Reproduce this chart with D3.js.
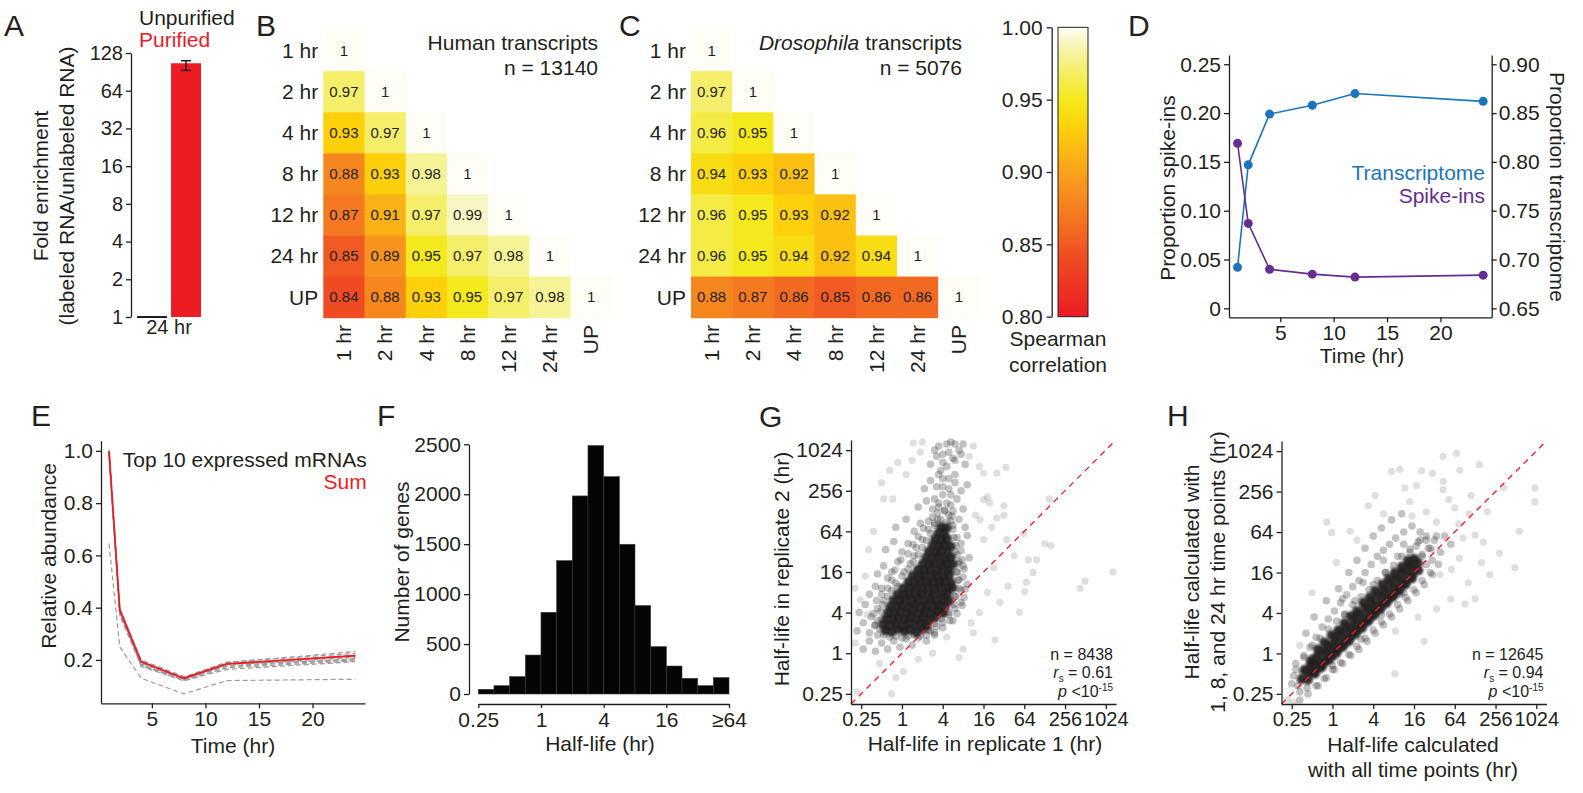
<!DOCTYPE html>
<html>
<head>
<meta charset="utf-8">
<script src="https://cdn.jsdelivr.net/npm/d3@7"></script>
<style>body{margin:0;background:#fff}</style>
</head>
<body>
<script>
// ---------------- data ----------------

// A: fold enrichment
var enrichGroups = ["Unpurified", "Purified"];
var enrichTime = "24 hr";
var enrichMean = [1, 106];
var enrichLo = [1, 93];
var enrichHi = [1, 111];
var enrichTicks = [1, 2, 4, 8, 16, 32, 64, 128];

// B, C: spearman correlations (lower triangle)
var timeLabels = ["1 hr", "2 hr", "4 hr", "8 hr", "12 hr", "24 hr", "UP"];
var humanCorr = [
  [1],
  [0.97, 1],
  [0.93, 0.97, 1],
  [0.88, 0.93, 0.98, 1],
  [0.87, 0.91, 0.97, 0.99, 1],
  [0.85, 0.89, 0.95, 0.97, 0.98, 1],
  [0.84, 0.88, 0.93, 0.95, 0.97, 0.98, 1]
];
var flyCorr = [
  [1],
  [0.97, 1],
  [0.96, 0.95, 1],
  [0.94, 0.93, 0.92, 1],
  [0.96, 0.95, 0.93, 0.92, 1],
  [0.96, 0.95, 0.94, 0.92, 0.94, 1],
  [0.88, 0.87, 0.86, 0.85, 0.86, 0.86, 1]
];
var corrTicks = [0.80, 0.85, 0.90, 0.95, 1.00];

// D: proportions
var sampleTimes = [1, 2, 4, 8, 12, 24];
var transcriptomeProp = [0.692, 0.797, 0.849, 0.858, 0.870, 0.862];
var spikeinProp = [0.169, 0.087, 0.040, 0.035, 0.032, 0.034];

// E: top 10 expressed mRNAs
var topGenes = [
  [1.00, 0.400, 0.200, 0.136, 0.190, 0.232],
  [1.00, 0.395, 0.197, 0.133, 0.192, 0.225],
  [1.00, 0.390, 0.190, 0.130, 0.185, 0.218],
  [0.99, 0.385, 0.186, 0.127, 0.182, 0.210],
  [1.00, 0.380, 0.183, 0.125, 0.178, 0.205],
  [0.98, 0.400, 0.195, 0.128, 0.175, 0.200],
  [1.00, 0.375, 0.180, 0.122, 0.170, 0.196],
  [0.99, 0.388, 0.175, 0.120, 0.164, 0.193],
  [1.00, 0.370, 0.178, 0.124, 0.185, 0.200],
  [0.645, 0.250, 0.130, 0.070, 0.121, 0.126]
];
var topSum = [1.00, 0.390, 0.193, 0.130, 0.185, 0.216];

// F: half-life histogram, bins of half a doubling from 0.25 hr
var hlBinCounts = [47, 83, 174, 390, 818, 1335, 1983, 2487, 2176, 1499, 885, 474, 280, 157, 83, 164];
var hlTickLabels = ["0.25", "1", "4", "16", "\u226564"];

// G, H: half-lives, log2(hr) pairs
var scatterTickLabels = ["0.25", "1", "4", "16", "64", "256", "1024"];

var repCore = [
  [-0.82,1.12],[-0.51,1.05],[-0.18,1.18],[0.12,1.08],[0.43,1.15],[0.71,1.02],[1.02,1.2],
  [-0.93,1.42],[-0.62,1.38],[-0.28,1.45],[0.03,1.36],[0.31,1.47],[0.62,1.4],[0.94,1.44],[1.22,1.35],
  [-0.78,1.72],[-0.47,1.66],[-0.17,1.75],[0.14,1.68],[0.42,1.77],[0.73,1.7],[1.04,1.74],[1.33,1.66],[1.62,1.76],
  [-0.68,2.02],[-0.38,1.96],[-0.07,2.05],[0.22,1.98],[0.53,2.07],[0.81,1.99],[1.12,2.04],[1.41,1.97],[1.72,2.06],[2.01,1.98],
  [-0.57,2.31],[-0.27,2.27],[0.04,2.34],[0.33,2.26],[0.62,2.35],[0.93,2.28],[1.21,2.33],[1.52,2.27],[1.83,2.36],[2.12,2.29],
  [-0.41,2.61],[-0.12,2.56],[0.18,2.64],[0.47,2.57],[0.79,2.65],[1.08,2.58],[1.39,2.63],[1.68,2.56],[2.02,2.64],[2.31,2.58],
  [-0.22,2.91],[0.08,2.86],[0.37,2.94],[0.68,2.87],[0.98,2.95],[1.29,2.88],[1.61,2.93],[1.92,2.86],[2.23,2.94],
  [0.06,3.21],[0.38,3.17],[0.69,3.24],[0.98,3.16],[1.31,3.23],[1.62,3.18],[1.91,3.25],[2.21,3.17],[2.48,3.22],
  [0.32,3.52],[0.61,3.47],[0.92,3.54],[1.21,3.46],[1.52,3.53],[1.82,3.48],[2.12,3.55],[2.41,3.47],
  [0.52,3.82],[0.83,3.77],[1.12,3.84],[1.43,3.76],[1.73,3.83],[2.02,3.78],[2.33,3.85],
  [0.78,4.12],[1.09,4.07],[1.41,4.14],[1.7,4.06],[2.01,4.13],[2.32,4.08],
  [1.02,4.42],[1.31,4.37],[1.62,4.44],[1.91,4.36],[2.22,4.43],[2.49,4.38],
  [1.18,4.72],[1.49,4.67],[1.79,4.74],[2.09,4.66],[2.41,4.73],
  [1.32,5.02],[1.62,4.97],[1.92,5.04],[2.23,4.96],
  [1.51,5.32],[1.81,5.27],[2.11,5.34],[2.39,5.26],
  [1.62,5.62],[1.92,5.57],[2.21,5.64],
  [1.79,5.92],[2.08,5.87],[1.92,6.22],[2.19,6.17]
];
var repMid = [
  [-1.9,0.2],[-1.6,0.6],[-1.3,0.1],[-1.0,0.5],[-0.7,0.2],[-0.4,0.6],[-0.1,0.3],[0.2,0.7],[0.5,0.4],[0.8,0.75],[1.2,0.6],
  [-2.2,1.1],[-1.9,1.5],[-1.6,1.0],[-1.3,1.4],[-1.2,0.9],[1.4,1.1],[1.7,1.3],[2.0,1.5],[1.6,0.9],
  [-2.1,2.0],[-1.8,2.4],[-1.5,1.8],[-1.2,2.2],[-1.0,1.7],[-0.9,2.6],[2.3,1.9],[2.6,2.2],[2.9,2.5],[2.5,1.6],
  [-1.6,2.9],[-1.3,3.3],[-1.0,2.9],[-0.7,3.2],[-0.5,3.6],[-0.2,3.3],[2.6,2.8],[2.9,3.1],[3.2,3.4],[2.8,3.6],
  [-1.2,3.9],[-0.9,4.3],[-0.5,4.0],[-0.2,4.5],[0.1,4.0],[0.4,4.4],[0.6,4.8],[2.7,4.0],[3.0,4.3],[3.3,4.7],[2.8,4.5],
  [-0.8,5.1],[-0.4,5.5],[0.0,5.0],[0.3,5.4],[0.7,5.2],[1.0,5.6],[2.6,5.0],[2.9,5.4],[3.2,5.8],[2.7,5.7],
  [-0.3,6.2],[0.2,6.6],[0.6,6.0],[0.9,6.4],[1.3,6.1],[1.5,6.7],[2.5,6.3],[2.8,6.6],[3.1,6.2],[2.3,6.8],
  [1.6,6.4],[1.9,6.6],[2.2,6.45],[2.45,6.75],[1.75,6.9],[2.1,7.05],
  [0.8,7.2],[1.2,7.5],[1.5,7.1],[1.8,7.4],[2.1,7.0],[2.4,7.3],[2.7,7.6],[3.0,7.1],[2.0,7.8],
  [1.1,8.1],[1.4,8.5],[1.7,8.2],[2.0,8.6],[2.3,8.1],[2.6,8.4],[2.9,8.0],[3.2,8.3],[1.9,9.0],
  [1.4,9.3],[1.7,9.7],[2.0,9.4],[2.3,9.9],[2.6,9.5],[2.9,9.8],[3.1,9.3],[2.2,10.3],[2.6,10.3],[1.8,10.2],[3.0,10.3],
  [-1.1,1.2],[-1.2,1.6],[-1.05,2.05],[-0.95,2.4],[-0.7,2.8],[-0.5,3.1],[-0.3,3.45],[0.0,3.8],[0.3,4.15],[0.55,4.5],
  [0.8,4.85],[1.0,5.2],[1.2,5.55],[1.4,5.9],[1.6,6.3],[1.75,6.6],
  [-1.35,1.35],[-1.4,1.95],[-1.25,2.6],[-1.0,3.2],[-0.7,3.7],[-0.35,4.1],[-0.05,4.6],[0.3,4.9],[0.55,5.35],[0.8,5.75],
  [1.05,6.15],[1.3,6.5],
  [1.3,1.15],[1.6,1.45],[1.95,1.7],[2.3,2.0],[2.55,2.4],[2.65,2.8],[2.8,3.2],[2.75,3.6],[2.7,4.0],[2.75,4.4],
  [2.7,4.85],[2.65,5.3],[2.55,5.7],[2.5,6.1],[2.4,6.5],
  [1.6,1.0],[2.0,1.25],[2.35,1.6],[2.7,1.95],[2.95,2.35],[3.05,2.75],[3.1,3.15],[3.0,3.75],[3.05,4.15],[2.95,4.6],[2.9,5.05],
  [-0.6,0.8],[-0.3,0.85],[0.0,0.75],[0.3,0.85],[0.6,0.9],[0.9,0.85],[-0.9,0.9],[1.2,0.9],
  [1.8,7.2],[2.2,7.4],[2.5,7.0],[1.6,7.6],[2.4,7.8],[2.0,8.2],[2.3,8.6],[1.8,8.8],[2.6,8.8],[2.2,9.2],
  [2.5,9.6],[2.0,9.8],[2.8,10.0],[2.4,10.4],[1.6,10.0]
];
var repSparse = [
  [-2.2,-1.9],[-0.5,-2.0],[0.07,-0.9],[-1.64,5.1],[-1.4,6.0],[-2.05,2.63],[-0.9,7.6],[-0.45,7.6],[-0.2,9.4],[0.5,9.5],
  [0.56,10.35],[4.0,8.87],[4.65,8.87],[5.1,9.15],[7.23,7.6],[5.96,5.9],[7.0,5.4],[7.3,5.3],[6.2,4.6],[6.6,4.6],
  [6.43,3.98],[6.02,3.04],[5.77,2.02],[6.1,3.5],[8.74,3.2],[8.98,3.55],[10.35,4.0],[4.57,0.66],
  [3.5,1.0],[3.8,2.0],[4.2,3.0],[4.5,4.2],[4.0,5.6],[3.6,6.8],[4.3,7.4],[3.8,9.2],[-1.0,8.4],[0.2,8.8],
  [-1.8,3.8],[-2.3,0.5],[-1.1,-0.5],[0.8,-0.3],[1.5,0.0],[2.2,0.8],[3.0,0.2],[4.8,2.5],[5.2,3.3],[5.5,4.8],
  [3.4,1.5],[-0.6,9.0],[0.9,9.9],[3.5,10.2],[4.4,6.2],[5.0,6.8],[2.8,-0.2],[4.0,7.56],[4.2,7.7],[5.0,7.26],
  [3.83,6.57],[4.65,6.65],[5.14,5.59],[1.0,10.4],[3.3,9.7],[-1.7,1.9],[-2.3,3.2],[-0.3,-1.2]
];

var subCore = [
  [-1.52,-1.28],[-1.21,-0.92],[-0.93,-0.61],[-0.62,-0.33],[-0.31,0.02],[0.01,0.28],[0.29,0.61],[0.6,0.88],[0.91,1.22],[1.19,1.5],
  [1.51,1.79],[1.79,2.12],[2.11,2.4],[2.4,2.71],[2.69,3.02],[3.01,3.28],[3.3,3.61],[3.61,3.9],[3.89,4.2],[4.2,4.48],
  [-1.38,-0.81],[-1.08,-0.52],[-0.79,-0.18],[-0.47,0.11],[-0.18,0.43],[0.14,0.72],[0.43,1.06],[0.74,1.33],[1.04,1.67],[1.33,1.95],
  [1.64,2.27],[1.93,2.56],[2.24,2.88],[2.53,3.16],[2.84,3.47],[3.14,3.76],[3.43,4.08],[3.74,4.36],[4.02,4.68],
  [-1.2,-1.31],[-0.9,-0.98],[-0.6,-0.72],[-0.29,-0.39],[0.02,-0.12],[0.31,0.22],[0.62,0.49],[0.93,0.83],[1.22,1.1],[1.53,1.44],
  [1.82,1.71],[2.13,2.05],[2.42,2.31],[2.73,2.64],[3.02,2.9],[3.33,3.24],[3.62,3.51],[3.93,3.84],[4.22,4.1],
  [-1.05,-0.35],[-0.72,0.2],[-0.4,0.55],[-0.05,0.9],[0.28,1.15],[0.58,1.5],[0.9,1.85],[1.2,2.1],[1.5,2.5],[1.82,2.78],
  [2.1,3.1],[2.45,3.42],[2.75,3.7],[3.05,4.0],[3.4,4.3],[3.7,4.6],
  [-0.85,-1.0],[-0.5,-0.65],[-0.15,-0.3],[0.2,0.02],[0.5,0.32],[0.82,0.62],[1.12,0.95],[1.45,1.25],[1.75,1.58],[2.05,1.88],
  [2.35,2.18],[2.65,2.48],[2.95,2.78],[3.28,3.1],[3.58,3.4],[3.9,3.7]
];
var subMid = [
  [-2.0,-1.5],[-1.8,-0.8],[-1.6,-1.9],[-1.4,-0.2],[-1.1,0.3],[-0.8,0.8],[-0.5,1.3],[-0.2,1.7],[0.1,2.1],[0.4,2.5],
  [0.7,2.9],[1.0,3.3],[1.3,3.6],[1.6,4.0],[1.9,4.4],[2.2,4.8],[2.5,5.1],[2.8,5.4],[3.1,5.7],[3.5,6.0],[3.9,6.3],[4.3,6.0],[4.6,5.6],
  [-1.3,1.0],[-0.9,1.8],[-0.3,2.6],[0.3,3.2],[0.8,4.0],[1.2,4.6],[1.6,5.2],[2.0,5.8],[2.4,6.2],[2.9,6.6],[3.4,6.9],
  [-0.7,-1.6],[-0.3,-1.2],[0.1,-0.8],[0.5,-0.5],[0.9,-0.1],[1.3,0.2],[1.7,0.6],[2.1,1.0],[2.5,1.4],[2.9,1.8],
  [3.3,2.2],[3.7,2.6],[4.1,3.0],[4.5,3.4],[4.9,3.9],[5.2,4.4],
  [4.4,4.9],[4.7,5.2],[5.0,5.6],[5.3,5.0],[4.6,4.4],[5.5,5.8],[5.8,5.4],[4.1,5.3],[3.8,5.0],[4.3,5.6],
  [-1.9,-1.1],[-1.7,-1.6],[-1.5,-1.0],[-1.25,-1.7],[-1.0,-0.2],[0.6,1.9],[1.1,2.6],[2.0,3.4],[2.6,4.0],[3.2,4.8],
  [1.4,0.7],[2.4,1.9],[3.5,3.0],[0.0,-0.6],
  [-1.8,-0.5],[-1.4,-0.1],[-1.0,0.4],[-0.6,0.75],[-0.2,1.2],[0.2,1.6],[0.6,1.95],[1.0,2.4],[1.4,2.8],[1.8,3.15],
  [2.2,3.6],[2.6,4.0],[3.0,4.35],[3.4,4.8],[3.8,5.15],[4.2,5.5],[4.6,5.8],
  [-1.6,-2.3],[-1.2,-2.0],[-0.8,-1.6],[-0.4,-1.25],[0.0,-0.8],[0.4,-0.45],[0.8,-0.05],[1.2,0.35],[1.6,0.75],[2.0,1.15],
  [2.4,1.55],[2.8,1.95],[3.2,2.4],[3.6,2.75],[4.0,3.15],[4.4,3.6],[4.8,4.0],
  [0.5,2.7],[1.5,3.5],[2.5,4.6],[3.5,5.4],[4.0,4.4],[4.4,4.8],[4.8,5.2],[5.1,5.8],[4.9,4.6],[3.3,2.9]
];
var subSparse = [
  [9.93,8.18],[9.93,7.49],[9.16,6.04],[8.95,4.24],[8.2,4.95],[7.72,3.9],[7.31,4.49],[6.09,9.9],[5.43,9.74],[7.2,9.33],
  [6.25,9.05],[2.9,9.0],[3.3,9.1],[4.37,9.03],[1.76,7.3],[-0.28,6.49],[-0.04,5.97],[0.86,6.04],[3.06,-1.0],[6.5,2.43],
  [5.8,2.69],[7.0,2.7],[6.66,3.5],[5.43,8.1],[3.55,8.18],[4.12,8.3],[5.43,8.5],[5.27,3.9],[5.84,4.15],[4.9,5.1],
  [6.4,5.7],[7.0,5.85],[6.23,4.7],[7.4,5.5],[2.1,7.8],[3.8,7.5],[4.6,7.0],[5.1,6.5],[6.0,7.2],[6.8,7.8],
  [2.5,6.9],[1.2,5.6],[-1.0,3.0],[-1.6,0.4],[0.2,4.5],[3.1,1.1],[4.2,1.8],[5.1,2.2],[4.5,0.6],[-2.2,-2.3],
  [-1.9,-2.4],[6.2,6.4],[5.7,7.6],[7.6,7.0],[8.4,8.2],[4.9,8.9],[3.9,6.8],[6.7,6.9]
];

// ---------------- drawing ----------------

var FONT = "'Liberation Sans', Arial, Helvetica, sans-serif";
var INK = "#231f20";
var RED = "#ed1c24";

var svg = d3.select("body").append("svg")
  .attr("width", 1583)
  .attr("height", 793)
  .attr("font-family", FONT)
  .style("background", "#fff");

var defs = svg.append("defs");
defs.append("filter").attr("id", "soft")
  .attr("x", "-10%").attr("y", "-10%").attr("width", "120%").attr("height", "120%")
  .append("feGaussianBlur").attr("stdDeviation", 1.0);

function styleAxis(g, fs) {
  g.attr("font-family", FONT).attr("font-size", fs);
  g.selectAll("path, line").attr("stroke", INK).attr("stroke-width", 1.3);
  g.selectAll("text").attr("fill", INK);
}

function text(x, y, s, size, anchor, color) {
  return svg.append("text")
    .attr("x", x).attr("y", y)
    .attr("font-size", size)
    .attr("text-anchor", anchor || "start")
    .attr("fill", color || INK)
    .text(s);
}

function vtext(cx, cy, s, size, angle) {
  return svg.append("text")
    .attr("transform", "translate(" + cx + "," + cy + ") rotate(" + (angle || -90) + ")")
    .attr("text-anchor", "middle")
    .attr("dy", "0.35em")
    .attr("font-size", size)
    .attr("fill", INK)
    .text(s);
}

// panel letters
[["A", 4, 36], ["B", 256, 36], ["C", 619, 36], ["D", 1128, 36],
 ["E", 31, 426], ["F", 377, 426], ["G", 759, 427], ["H", 1167, 426]].forEach(function (p) {
  text(p[1], p[2], p[0], 30);
});

// ---- A ----
var yA = d3.scaleLog().base(2).domain([1, 128]).range([317, 53]);
var xA = d3.scaleBand().domain(enrichGroups).range([137, 201]).paddingInner(0.12);
var enrichColor = [INK, RED];

svg.append("g")
  .attr("transform", "translate(131,0)")
  .call(d3.axisLeft(yA).tickValues(enrichTicks).tickFormat(d3.format("d")).tickSize(5).tickSizeOuter(0).tickPadding(3))
  .call(styleAxis, 20);

enrichGroups.forEach(function (g, i) {
  var h = yA(1) - yA(enrichMean[i]);
  svg.append("rect")
    .attr("x", xA(g))
    .attr("y", yA(enrichMean[i]) - (h < 2 ? 1 : 0))
    .attr("width", xA.bandwidth())
    .attr("height", Math.max(h, 2))
    .attr("fill", enrichColor[i]);
  if (enrichHi[i] > enrichMean[i]) {
    var cx = xA(g) + xA.bandwidth() / 2;
    svg.append("line").attr("x1", cx).attr("x2", cx)
      .attr("y1", yA(enrichHi[i])).attr("y2", yA(enrichLo[i]))
      .attr("stroke", INK).attr("stroke-width", 1.5);
    [enrichHi[i], enrichLo[i]].forEach(function (v) {
      svg.append("line").attr("x1", cx - 5).attr("x2", cx + 5)
        .attr("y1", yA(v)).attr("y2", yA(v))
        .attr("stroke", INK).attr("stroke-width", 1.5);
    });
  }
});
text(169, 334, enrichTime, 20, "middle");
text(139, 25, enrichGroups[0], 21, "start", INK);
text(139, 47, enrichGroups[1], 21, "start", RED);
vtext(41, 186, "Fold enrichment", 21);
vtext(67, 186, "(labeled RNA/unlabeled RNA)", 21);

// ---- B, C ----
var corrStops = [0.80, 0.84, 0.87, 0.90, 0.93, 0.95, 0.97, 0.99, 1.00];
var corrColors = ["#ed1c24", "#ef4b23", "#f47920", "#f9a21b", "#fdd00b", "#f3e91d", "#f4ee6a", "#f8f6c2", "#fffef6"];
var corrColor = d3.scaleLinear().domain(corrStops).range(corrColors).clamp(true);

function heatmap(x0, data, drawTitle, nLabel, titleRight) {
  var xb = d3.scaleBand().domain(timeLabels).range([x0, x0 + 7 * 41.2]);
  var yb = d3.scaleBand().domain(timeLabels).range([30, 30 + 7 * 41.1]);
  var g = svg.append("g");
  data.forEach(function (row, i) {
    row.forEach(function (v, j) {
      g.append("rect")
        .attr("x", xb(timeLabels[j]))
        .attr("y", yb(timeLabels[i]))
        .attr("width", xb.bandwidth() + 0.5)
        .attr("height", yb.bandwidth() + 0.5)
        .attr("fill", corrColor(v));
      g.append("text")
        .attr("x", xb(timeLabels[j]) + xb.bandwidth() / 2)
        .attr("y", yb(timeLabels[i]) + yb.bandwidth() / 2)
        .attr("dy", "0.35em")
        .attr("text-anchor", "middle")
        .attr("font-size", 15)
        .attr("fill", INK)
        .text(v === 1 ? "1" : d3.format(".2f")(v));
    });
  });
  timeLabels.forEach(function (t) {
    g.append("text")
      .attr("x", x0 - 5)
      .attr("y", yb(t) + yb.bandwidth() / 2)
      .attr("dy", "0.35em")
      .attr("text-anchor", "end")
      .attr("font-size", 21)
      .attr("fill", INK)
      .text(t);
    g.append("text")
      .attr("transform", "translate(" + (xb(t) + xb.bandwidth() / 2) + ",325) rotate(-90)")
      .attr("dy", "0.35em")
      .attr("text-anchor", "end")
      .attr("font-size", 21)
      .attr("fill", INK)
      .text(t);
  });
  var t1 = g.append("text").attr("x", titleRight).attr("y", 50)
    .attr("text-anchor", "end").attr("font-size", 21).attr("fill", INK);
  drawTitle(t1);
  g.append("text").attr("x", titleRight).attr("y", 75)
    .attr("text-anchor", "end").attr("font-size", 21).attr("fill", INK)
    .text(nLabel);
}

heatmap(323.3, humanCorr, function (t) { t.text("Human transcripts"); }, "n = 13140", 598);
heatmap(691, flyCorr, function (t) {
  t.append("tspan").attr("font-style", "italic").text("Drosophila");
  t.append("tspan").text(" transcripts");
}, "n = 5076", 962);

// colorbar
var yCb = d3.scaleLinear().domain([0.80, 1.00]).range([316.7, 27.3]);
var grad = defs.append("linearGradient")
  .attr("id", "cbar").attr("x1", 0).attr("y1", 1).attr("x2", 0).attr("y2", 0);
corrStops.forEach(function (s, i) {
  grad.append("stop").attr("offset", (s - 0.8) / 0.2).attr("stop-color", corrColors[i]);
});
svg.append("rect")
  .attr("x", 1058).attr("y", yCb(1)).attr("width", 30).attr("height", yCb(0.8) - yCb(1))
  .attr("fill", "url(#cbar)").attr("stroke", INK).attr("stroke-width", 1);
svg.append("g")
  .attr("transform", "translate(1051.7,0)")
  .call(d3.axisLeft(yCb).tickValues(corrTicks).tickFormat(d3.format(".2f")).tickSize(5).tickSizeOuter(0).tickPadding(4))
  .call(styleAxis, 21);
text(1058, 346, "Spearman", 21, "middle");
text(1058, 372, "correlation", 21, "middle");

// ---- D ----
var xD = d3.scaleLinear().domain([0.2, 24.8]).range([1229, 1491.7]);
var yDL = d3.scaleLinear().domain([-0.0092, 0.2595]).range([317.3, 55]);
var yDR = d3.scaleLinear().domain([0.6408, 0.9095]).range([317.3, 55]);
var BLUE = "#1b75bb", PURPLE = "#662d91";

svg.append("g").attr("transform", "translate(0,317.3)")
  .call(d3.axisBottom(xD).tickValues([5, 10, 15, 20]).tickSize(5).tickSizeOuter(0).tickPadding(3))
  .call(styleAxis, 21);
svg.append("g").attr("transform", "translate(1229,0)")
  .call(d3.axisLeft(yDL).tickValues([0, 0.05, 0.10, 0.15, 0.20, 0.25])
    .tickFormat(function (d) { return d === 0 ? "0" : d3.format(".2f")(d); })
    .tickSize(5).tickSizeOuter(0).tickPadding(3))
  .call(styleAxis, 21);
svg.append("g").attr("transform", "translate(1491.7,0)")
  .call(d3.axisRight(yDR).tickValues([0.65, 0.70, 0.75, 0.80, 0.85, 0.90])
    .tickFormat(d3.format(".2f")).tickSize(5).tickSizeOuter(0).tickPadding(2))
  .call(styleAxis, 21);

function seriesD(vals, yScale, color) {
  var pts = vals.map(function (v, i) { return [xD(sampleTimes[i]), yScale(v)]; });
  svg.append("path").attr("d", d3.line()(pts))
    .attr("fill", "none").attr("stroke", color).attr("stroke-width", 1.6);
  svg.append("g").selectAll("circle").data(pts).enter().append("circle")
    .attr("cx", function (d) { return d[0]; })
    .attr("cy", function (d) { return d[1]; })
    .attr("r", 4.5).attr("fill", color);
}
seriesD(transcriptomeProp, yDR, BLUE);
seriesD(spikeinProp, yDL, PURPLE);
text(1485, 180, "Transcriptome", 21, "end", BLUE);
text(1485, 203, "Spike-ins", 21, "end", PURPLE);
vtext(1168, 188, "Proportion spike-ins", 21, -90);
vtext(1557, 187, "Proportion transcriptome", 21, 90);
text(1362, 363, "Time (hr)", 21, "middle");

// ---- E ----
var xE = d3.scaleLinear().domain([0.25, 24.9]).range([101, 365]);
var yE = d3.scaleLinear().domain([0.034, 1.039]).range([703.3, 440.7]);
svg.append("g").attr("transform", "translate(0,703.3)")
  .call(d3.axisBottom(xE).tickValues([5, 10, 15, 20]).tickSize(5).tickSizeOuter(0).tickPadding(3))
  .call(styleAxis, 21);
svg.append("g").attr("transform", "translate(101,0)")
  .call(d3.axisLeft(yE).tickValues([0.2, 0.4, 0.6, 0.8, 1.0]).tickFormat(d3.format(".1f"))
    .tickSize(5).tickSizeOuter(0).tickPadding(3))
  .call(styleAxis, 21);
var lineE = d3.line()
  .x(function (d, i) { return xE(sampleTimes[i]); })
  .y(function (d) { return yE(d); });
topGenes.forEach(function (s) {
  svg.append("path").attr("d", lineE(s))
    .attr("fill", "none").attr("stroke", "#9a9a9a")
    .attr("stroke-width", 1.2).attr("stroke-dasharray", "5,3");
});
svg.append("path").attr("d", lineE(topSum))
  .attr("fill", "none").attr("stroke", RED).attr("stroke-width", 1.8);
text(366.7, 467, "Top 10 expressed mRNAs", 21, "end");
text(366.7, 489, "Sum", 21, "end", RED);
vtext(49, 556, "Relative abundance", 21);
text(233, 753, "Time (hr)", 21, "middle");

// ---- F ----
var xF = d3.scaleLinear().domain([-2, 6]).range([478.3, 729]);
var yF = d3.scaleLinear().domain([0, 2500]).range([694, 444.3]);
svg.append("g").attr("transform", "translate(469,0)")
  .call(d3.axisLeft(yF).tickValues([0, 500, 1000, 1500, 2000, 2500]).tickFormat(d3.format("d"))
    .tickSize(5).tickSizeOuter(0).tickPadding(3))
  .call(styleAxis, 21);
svg.append("g").attr("transform", "translate(0,704)")
  .call(d3.axisBottom(xF).tickValues(hlTickLabels.map(function (l, i) { return -2 + 2 * i; }))
    .tickFormat(function (d, i) { return hlTickLabels[i]; })
    .tickSize(4).tickSizeOuter(0).tickPadding(4))
  .call(styleAxis, 21);
svg.append("g").selectAll("rect").data(hlBinCounts).enter().append("rect")
  .attr("x", function (d, i) { return xF(-2 + 0.5 * i); })
  .attr("width", function (d, i) { return xF(-1.5 + 0.5 * i) - xF(-2 + 0.5 * i); })
  .attr("y", function (d) { return yF(d); })
  .attr("height", function (d) { return yF(0) - yF(d); })
  .attr("fill", "#050505").attr("stroke", "#3a3a3a").attr("stroke-width", 0.6);
vtext(402, 562, "Number of genes", 21);
text(600, 751, "Half-life (hr)", 21, "middle");

// ---- G, H ----
function scatter(cfg) {
  var xs = d3.scaleLinear().domain([-2.5, 10.5]).range([cfg.x0, cfg.x1]);
  var ys = d3.scaleLinear().domain([-2.5, 10.5]).range([cfg.y0, cfg.y1]);
  var tickPos = scatterTickLabels.map(function (l) { return Math.log2(+l); });
  var g = svg.append("g");
  cfg.tiers.forEach(function (t) {
    var tg = g.append("g");
    if (t.blur) tg.attr("filter", "url(#soft)");
    tg.selectAll("circle").data(t.pts).enter().append("circle")
      .attr("cx", function (d) { return xs(d[0]); })
      .attr("cy", function (d) { return ys(d[1]); })
      .attr("r", t.r)
      .attr("fill", INK)
      .attr("fill-opacity", t.op);
  });
  g.append("line")
    .attr("x1", xs(-2.5)).attr("y1", ys(-2.5)).attr("x2", xs(10.5)).attr("y2", ys(10.5))
    .attr("stroke", RED).attr("stroke-width", 1.3).attr("stroke-dasharray", "6,5");
  svg.append("g").attr("transform", "translate(0," + cfg.y0 + ")")
    .call(d3.axisBottom(xs).tickValues(tickPos).tickFormat(function (d, i) { return scatterTickLabels[i]; })
      .tickSize(5).tickSizeOuter(0).tickPadding(3))
    .call(styleAxis, 20);
  svg.append("g").attr("transform", "translate(" + cfg.x0 + ",0)")
    .call(d3.axisLeft(ys).tickValues(tickPos).tickFormat(function (d, i) { return scatterTickLabels[i]; })
      .tickSize(5).tickSizeOuter(0).tickPadding(3))
    .call(styleAxis, 21);

  var ax = cfg.x1 - 3;
  text(ax, 660, cfg.n, 16, "end");
  var r = svg.append("text").attr("x", ax).attr("y", 678).attr("text-anchor", "end")
    .attr("font-size", 16).attr("fill", INK);
  r.append("tspan").attr("font-style", "italic").text("r");
  r.append("tspan").attr("font-size", 10).attr("dy", 4).text("s");
  r.append("tspan").attr("dy", -4).text(" = " + cfg.rs);
  var p = svg.append("text").attr("x", ax).attr("y", 697).attr("text-anchor", "end")
    .attr("font-size", 16).attr("fill", INK);
  p.append("tspan").attr("font-style", "italic").text("p");
  p.append("tspan").text(" <10");
  p.append("tspan").attr("font-size", 10).attr("dy", -6).text("-15");
}

scatter({ x0: 851, x1: 1116, y0: 704, y1: 440,
  tiers: [
    { pts: repSparse, op: 0.14, r: 3.6 },
    { pts: repMid, op: 0.27, r: 3.8 },
    { pts: repCore, op: 0.92, r: 4.8, blur: true }
  ],
  n: "n = 8438", rs: "0.61" });
vtext(782, 569, "Half-life in replicate 2 (hr)", 21);
text(985, 751, "Half-life in replicate 1 (hr)", 21, "middle");

scatter({ x0: 1281.5, x1: 1546.5, y0: 704, y1: 441,
  tiers: [
    { pts: subSparse, op: 0.14, r: 3.6 },
    { pts: subMid, op: 0.27, r: 3.8 },
    { pts: subCore, op: 0.92, r: 4.8, blur: true }
  ],
  n: "n = 12645", rs: "0.94" });
vtext(1192, 572, "Half-life calculated with", 21);
vtext(1218, 572, "1, 8, and 24 hr time points (hr)", 21);
text(1413, 752, "Half-life calculated", 21, "middle");
text(1413, 777, "with all time points (hr)", 21, "middle");
</script>
</body>
</html>
